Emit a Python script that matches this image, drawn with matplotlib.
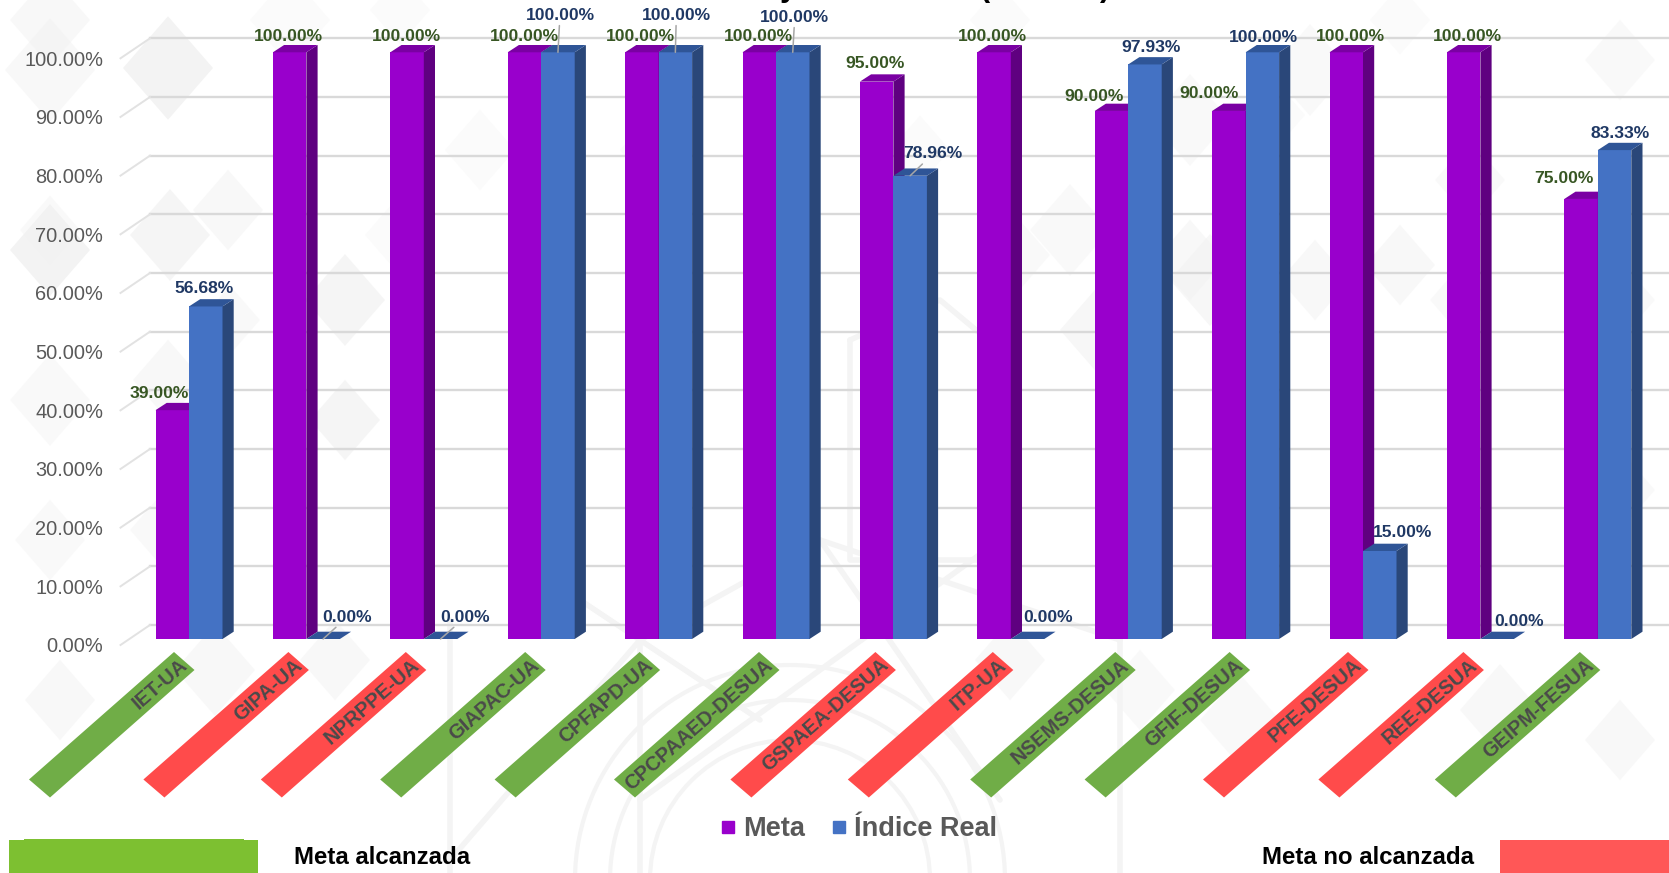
import numpy as np
import matplotlib
matplotlib.use("Agg")
import matplotlib.pyplot as plt
from matplotlib.patches import Polygon, Circle, Rectangle
from matplotlib.lines import Line2D

categories = ["IET-UA", "GIPA-UA", "NPRPPE-UA", "GIAPAC-UA", "CPFAPD-UA", "CPCPAAED-DESUA", "GSPAEA-DESUA",
              "ITP-UA", "NSEMS-DESUA", "GFIF-DESUA", "PFE-DESUA", "REE-DESUA", "GEIPM-FESUA"]
meta = [39.0, 100.0, 100.0, 100.0, 100.0, 100.0, 95.0, 100.0, 90.0, 90.0, 100.0, 100.0, 75.0]
real = [56.68, 0.0, 0.0, 100.0, 100.0, 100.0, 78.96, 0.0, 97.93, 100.0, 15.0, 0.0, 83.33]
reached = [True, False, False, True, True, True, False, False, True, True, False, False, True]
y_values = [0, 10, 20, 30, 40, 50, 60, 70, 80, 90, 100]
y_labels = ["%.2f%%" % v for v in y_values]

# label offsets from the top of each bar, in pixels
meta_shift = [(-13, 17), (-1, 16), (-1, 16), (0, 16), (-1, 16), (-1, 16), (-2, 18),
              (-2, 16), (-17, 14), (-20, 17), (4, 16), (4, 16), (-17, 20)]
real_shift = [(-2, 18), (24, 22), (25, 22), (2, 37), (1, 37), (2, 35), (23, 22),
              (21, 21), (6, 17), (1, 15), (23, 18), (22, 18), (6, 17)]
leaders = [1, 2, 3, 4, 5, 6]
band_shift = [-15, -18, -18, -16, -19, -17, -18, -18, -13, -16, -15, -17, -18]

W, H = 1669, 873
X_ZERO, GROUP = 189, 117.4
Y_ZERO, TEN = 639, 58.67
AX_BOTTOM = 651
px_x = 1 / GROUP
px_y = 10 / TEN
bar_w = 33.5 * px_x
depth_x = 11.2 * px_x
depth_y = 7.3 * px_y

fig = plt.figure(figsize=(W / 100, H / 100), dpi=100)
plt.rcParams["font.family"] = ["Liberation Sans", "DejaVu Sans"]

# background watermark, pixel coordinates
bg = fig.add_axes([0, 0, 1, 1], zorder=0)
bg.set_xlim(0, W)
bg.set_ylim(H, 0)
bg.axis("off")
diamonds = [(168, 68, 45, 0.9), (50, 70, 45, 0.5), (170, 235, 40, 0.7), (50, 250, 40, 0.9), (228, 210, 35, 0.5),
            (168, 380, 35, 0.5), (50, 230, 30, 0.4), (345, 300, 40, 0.7), (345, 420, 35, 0.7), (230, 320, 30, 0.4),
            (480, 150, 35, 0.3), (400, 235, 35, 0.3), (1070, 230, 40, 0.4), (1190, 120, 40, 0.4), (1310, 70, 40, 0.4),
            (1470, 180, 35, 0.4), (1400, 265, 35, 0.5), (1190, 260, 35, 0.5), (1020, 255, 30, 0.4), (1100, 330, 40, 0.6),
            (1210, 280, 40, 0.6), (1315, 280, 35, 0.5), (1460, 300, 30, 0.4), (1620, 60, 35, 0.4), (1620, 300, 35, 0.4),
            (1270, 115, 35, 0.3), (920, 150, 30, 0.3), (650, 150, 30, 0.3), (50, 400, 40, 0.4), (170, 530, 40, 0.4),
            (50, 540, 35, 0.4), (1620, 490, 35, 0.4), (1620, 740, 35, 0.5), (1500, 710, 40, 0.5), (1240, 720, 40, 0.4),
            (60, 700, 35, 0.5), (215, 670, 40, 0.5), (335, 660, 35, 0.5), (1010, 660, 35, 0.5), (1140, 690, 35, 0.4),
            (50, 20, 40, 0.5), (290, 20, 40, 0.3), (400, 10, 30, 0.3), (1000, 20, 30, 0.3), (1400, 20, 30, 0.3)]
for cx, cy, r, shade in diamonds:
    bg.add_patch(Polygon([(cx - r, cy), (cx, cy - r * 1.15), (cx + r, cy), (cx, cy + r * 1.15)],
                         fc="#F2F2F2", ec="none", alpha=shade))
for r in [140, 180, 215]:
    bg.add_patch(Circle((790, 880), r, fc="none", ec="#F4F4F4", lw=3))
for xs, ys in [([450, 640, 820, 1120], [860, 640, 540, 640]), ([640, 640], [640, 873]), ([1120, 1120], [500, 873]),
               ([450, 450], [620, 873]), ([820, 1000], [540, 800]), ([640, 1000], [800, 540]),
               ([850, 940, 1000, 1000, 850, 850], [340, 300, 350, 560, 560, 340]), ([520, 760], [560, 720])]:
    bg.plot(xs, ys, color="#F4F4F4", lw=4, solid_capstyle="round")
bg.add_patch(Rectangle((9, 840), 249, 33, fc="#7DC031", ec="none"))
bg.add_patch(Rectangle((24, 839), 220, 2, fc="#7DC031", ec="none"))
bg.add_patch(Rectangle((1499.5, 840), 170, 33, fc="#FF5757", ec="none"))
bg.text(382, 857, "Meta alcanzada", weight="bold", fontsize=17.3, ha="center", va="center", color="black")
bg.text(1368, 857, "Meta no alcanzada", weight="bold", fontsize=17.3, ha="center", va="center", color="black")

# main chart, the axes start a little below zero so that the 0.00% tick label still shows
ax = fig.add_axes([120 / W, (H - AX_BOTTOM) / H, (W - 120) / W, (AX_BOTTOM - 20) / H], zorder=1)
x_limits = ((120 - X_ZERO) * px_x, (W - X_ZERO) * px_x)
y_limits = ((Y_ZERO - AX_BOTTOM) * px_y, (Y_ZERO - 20) * px_y)
ax.patch.set_alpha(0)
ax.set_axisbelow(False)
for s in ax.spines.values():
    s.set_visible(False)

x_front, x_back = (120.5 - X_ZERO) * px_x, (150 - X_ZERO) * px_x
for v in y_values:
    ax.plot([x_back, x_limits[1]], [v + 14 * px_y] * 2, color="#D9D9D9", lw=1.7, zorder=1, clip_on=False)
    ax.plot([x_front, x_back], [v - 6 * px_y, v + 14 * px_y], color="#E2E2E2", lw=1.4, zorder=1, clip_on=False)


def bar3d(x0, val, front, side, top, z):
    ax.bar(x0, val, bar_w, align="edge", color=front, zorder=z)
    if val > 0:
        ax.add_patch(Polygon([(x0 + bar_w, 0), (x0 + bar_w + depth_x, depth_y), (x0 + bar_w + depth_x, val + depth_y),
                              (x0 + bar_w, val)], fc=side, ec="none", zorder=z))
    ax.add_patch(Polygon([(x0, val), (x0 + depth_x, val + depth_y), (x0 + bar_w + depth_x, val + depth_y),
                          (x0 + bar_w, val)], fc=top, ec="none", zorder=z))


for i in range(len(categories)):
    bar3d(i - bar_w, meta[i], "#9900CC", "#5F0080", "#7A00A3", 3 + i * 0.01)
    bar3d(i, real[i], "#4472C4", "#2A4779", "#2F5597", 3.005 + i * 0.01)

    ax.annotate("%.2f%%" % meta[i], (i - bar_w / 2, meta[i]), xytext=meta_shift[i], textcoords="offset pixels",
                ha="center", va="center", fontsize=12.6, weight="bold", color="#375623", zorder=6,
                annotation_clip=False)
    arrow = None
    if i in leaders:
        arrow = dict(arrowstyle="-", color="#A6A6A6", lw=1.1, shrinkA=0, shrinkB=0)
    ax.annotate("%.2f%%" % real[i], (i + bar_w / 2, real[i]), xytext=real_shift[i], textcoords="offset pixels",
                ha="center", va="center", fontsize=12.6, weight="bold", color="#1F3864", zorder=6,
                annotation_clip=False, arrowprops=arrow)

    # coloured strip behind the category label
    tx, ty = i + band_shift[i] * px_x, -13 * px_y
    ax.add_patch(Polygon([(tx, ty), (tx + 20.5 * px_x, ty - 18 * px_y), (tx - 124 * px_x, ty - 145.5 * px_y),
                          (tx - 145 * px_x, ty - 127.5 * px_y)],
                         fc="#70AD47" if reached[i] else "#FF4B4B", ec="none", zorder=2, clip_on=False))

ax.set_yticks(np.array(y_values) - 6 * px_y, y_labels, fontsize=14.4, color="#595959")
ax.set_xticks(np.arange(len(categories)) + (np.array(band_shift) + 11) * px_x, categories, fontsize=14.5, weight="bold",
              color="#4A4A4A", rotation=41, ha="right", va="center", rotation_mode="anchor")
ax.tick_params(axis="y", length=0, pad=12)
ax.tick_params(axis="x", length=0, pad=8.5)
ax.set_xlim(x_limits)
ax.set_ylim(y_limits)

handles = [Line2D([], [], ls="", marker="s", ms=9, color="#9900CC", label="Meta"),
           Line2D([], [], ls="", marker="s", ms=9, color="#4472C4", label="Índice Real")]
leg = fig.legend(handles=handles, loc="center", bbox_to_anchor=(859 / W, (H - 829) / H), ncol=2, frameon=False,
                 prop=dict(weight="bold", size=19.5), labelcolor="#595959", handlelength=0.5, handletextpad=0.3,
                 columnspacing=1.0)

# bottoms of the title, the rest is cut off by the top of the picture
for x, s in [(788, "y"), (985, "("), (1105, ")")]:
    bg.text(x, 3, s, fontsize=22, weight="bold", ha="center", va="bottom", color="black", clip_on=True)

fig.savefig("out.png", dpi=100)
